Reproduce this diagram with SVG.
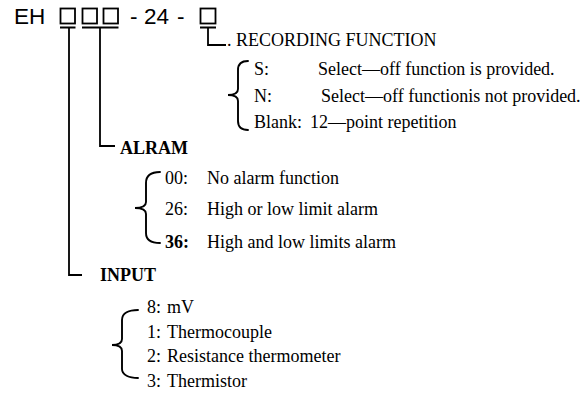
<svg xmlns="http://www.w3.org/2000/svg" width="588" height="394" viewBox="0 0 588 394">
<style>
.h{font-family:"Liberation Sans",Arial,sans-serif;font-size:22.5px;fill:#000}
.t{font-family:"Liberation Serif","Times New Roman",serif;font-size:18px;fill:#000}
.b{font-weight:bold}
.ln{stroke:#000;stroke-width:1.8;fill:none}
.bx{stroke:#000;stroke-width:1.8;fill:none}
.br{stroke:#000;stroke-width:1.9;fill:none;stroke-linecap:round}
</style>
<rect width="588" height="394" fill="#fff"/>
<g id="header">
<text class="h" x="14" y="24">EH</text>
<rect class="bx" x="60.5" y="8.5" width="14.5" height="15"/>
<rect class="bx" x="82.5" y="8.5" width="14.5" height="15"/>
<rect class="bx" x="103.5" y="8.5" width="14.5" height="15"/>
<text class="h" x="130" y="24">-</text>
<text class="h" x="144" y="24">24</text>
<text class="h" x="177" y="24">-</text>
<rect class="bx" x="200.5" y="8.5" width="15" height="15"/>
</g>
<g id="connectors">
<path class="ln" d="M60 27.5H75.5M82 27.5H118.5M200 27.5H216"/>
<path class="ln" d="M69 27.5V275H82"/>
<path class="ln" d="M100 27.5V146H115"/>
<path class="ln" d="M208 27.5V45H226"/>
</g>
<g id="recording">
<text class="t" x="227" y="46">. RECORDING FUNCTION</text>
<path class="br" d="M248 61C241 61 238 64 238 70V89C238 93 234 95 228 95C234 95 238 97 238 101V121C238 127 241 130 248 130"/>
<text class="t" x="254" y="75">S:</text>
<text class="t" x="318" y="75">Select—off function is provided.</text>
<text class="t" x="254" y="102">N:</text>
<text class="t" x="321" y="102">Select—off functionis not provided.</text>
<text class="t" x="254" y="128">Blank:</text>
<text class="t" x="310" y="128">12—point repetition</text>
</g>
<g id="alarm">
<text class="t b" x="120" y="154">ALRAM</text>
<path class="br" d="M160 172C152 172 146 175 146 183V202C146 206 142 208 135 208C142 208 146 210 146 214V233C146 240 152 243 160 243"/>
<text class="t" x="165" y="184">00:</text>
<text class="t" x="207" y="184">No alarm function</text>
<text class="t" x="165" y="215">26:</text>
<text class="t" x="207" y="215">High or low limit alarm</text>
<text class="t b" x="165" y="248">36:</text>
<text class="t" x="207" y="248">High and low limits alarm</text>
</g>
<g id="input">
<text class="t b" x="100" y="281">INPUT</text>
<path class="br" d="M138 310C129 310 122 313 122 320V339C122 343 118 345 112 345C118 345 122 347 122 351V369C122 375 129 378 138 378"/>
<text class="t" x="147" y="313">8:</text>
<text class="t" x="167" y="313">mV</text>
<text class="t" x="147" y="338">1:</text>
<text class="t" x="167" y="338">Thermocouple</text>
<text class="t" x="147" y="362">2:</text>
<text class="t" x="167" y="362">Resistance thermometer</text>
<text class="t" x="147" y="387">3:</text>
<text class="t" x="167" y="387">Thermistor</text>
</g>
</svg>
